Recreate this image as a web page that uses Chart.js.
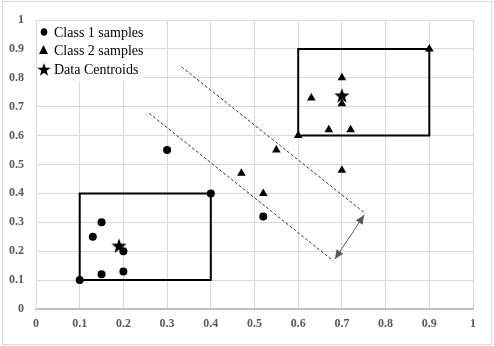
<!DOCTYPE html>
<html>
<head>
<meta charset="utf-8">
<script src="https://cdn.jsdelivr.net/npm/chart.js@4/dist/chart.umd.min.js"></script>
<style>
body { margin: 0; background: #fff; }
</style>
</head>
<body>
<canvas id="grafico" width="494" height="346"></canvas>
<script>
// dados
const class1X = [0.1, 0.15, 0.2, 0.13, 0.15, 0.2, 0.4, 0.3, 0.52]
const class1Y = [0.1, 0.12, 0.13, 0.25, 0.3, 0.2, 0.4, 0.55, 0.32]
const class2X = [0.9, 0.7, 0.63, 0.7, 0.67, 0.72, 0.6, 0.55, 0.7, 0.47, 0.52]
const class2Y = [0.9, 0.8, 0.73, 0.71, 0.62, 0.62, 0.6, 0.55, 0.48, 0.47, 0.4]
const centroidX = [0.19, 0.7]
const centroidY = [0.22, 0.74]

const box1X = [0.1, 0.4, 0.4, 0.1, 0.1]
const box1Y = [0.1, 0.1, 0.4, 0.4, 0.1]
const box2X = [0.6, 0.9, 0.9, 0.6, 0.6]
const box2Y = [0.6, 0.6, 0.9, 0.9, 0.6]

const dash1X = [0.333, 0.753]
const dash1Y = [0.838, 0.331]
const dash2X = [0.259, 0.68]
const dash2Y = [0.677, 0.167]

const setaX = [0.684, 0.751]
const setaY = [0.173, 0.325]

const tickValues = [0, 0.1, 0.2, 0.3, 0.4, 0.5, 0.6, 0.7, 0.8, 0.9, 1]
const tickLabels = ['0', '0.1', '0.2', '0.3', '0.4', '0.5', '0.6', '0.7', '0.8', '0.9', '1']

const legendLabels = ['Class 1 samples', 'Class 2 samples', 'Data Centroids']

function pontos(xs, ys){
    return xs.map((x, i) => ({x: x, y: ys[i]}))
}

function desenha_estrela(ctx, cx, cy, rOut, rIn){
    ctx.beginPath()
    for(let i = 0; i < 10; i++){
        let r = i % 2 == 0 ? rOut : rIn
        let a = -Math.PI / 2 + i * Math.PI / 5
        ctx.lineTo(cx + Math.cos(a) * r, cy + Math.sin(a) * r)
    }
    ctx.closePath()
    ctx.fill()
}

function cria_estrela(tam){
    const c = document.createElement('canvas')
    c.width = tam
    c.height = tam
    const g = c.getContext('2d')
    g.fillStyle = '#000'
    desenha_estrela(g, tam / 2, tam / 2 + tam * 0.06, tam / 2, tam / 5)
    return c
}

const estrela = cria_estrela(16)

const legenda = {
    id: 'legenda',
    beforeDatasetsDraw(chart){
        const ctx = chart.ctx
        const area = chart.chartArea
        ctx.save()
        ctx.fillStyle = '#fff'
        ctx.fillRect(area.left + 1, area.top + 1, 107, 60)
        ctx.fillStyle = '#000'
        const linhas = [12, 30, 49]
        // circulo
        ctx.beginPath()
        ctx.ellipse(area.left + 8, area.top + linhas[0], 3.3, 3.8, 0, 0, Math.PI * 2)
        ctx.fill()
        // triangulo
        ctx.beginPath()
        ctx.moveTo(area.left + 7.5, area.top + linhas[1] - 5)
        ctx.lineTo(area.left + 12, area.top + linhas[1] + 4)
        ctx.lineTo(area.left + 3, area.top + linhas[1] + 4)
        ctx.closePath()
        ctx.fill()
        // estrela
        desenha_estrela(ctx, area.left + 8, area.top + linhas[2] + 1, 7, 2.8)
        ctx.font = '14px "Liberation Serif", serif'
        ctx.textBaseline = 'middle'
        legendLabels.forEach((t, i) => {
            ctx.fillText(t, area.left + 18, area.top + linhas[i] + 1)
        })
        ctx.restore()
    }
}

const seta = {
    id: 'seta',
    afterDatasetsDraw(chart){
        const ctx = chart.ctx
        const sx = chart.scales.x
        const sy = chart.scales.y
        const x1 = sx.getPixelForValue(setaX[0]), y1 = sy.getPixelForValue(setaY[0])
        const x2 = sx.getPixelForValue(setaX[1]), y2 = sy.getPixelForValue(setaY[1])
        const ang = Math.atan2(y2 - y1, x2 - x1)
        ctx.save()
        ctx.strokeStyle = '#595959'
        ctx.fillStyle = '#595959'
        ctx.lineWidth = 1
        ctx.beginPath()
        ctx.moveTo(x1, y1)
        ctx.lineTo(x2, y2)
        ctx.stroke()
        function ponta(x, y, a){
            ctx.beginPath()
            ctx.moveTo(x, y)
            ctx.lineTo(x - Math.cos(a) * 9 + Math.sin(a) * 4, y - Math.sin(a) * 9 - Math.cos(a) * 4)
            ctx.lineTo(x - Math.cos(a) * 9 - Math.sin(a) * 4, y - Math.sin(a) * 9 + Math.cos(a) * 4)
            ctx.closePath()
            ctx.fill()
        }
        ponta(x2, y2, ang)
        ponta(x1, y1, ang + Math.PI)
        ctx.restore()
    }
}

const moldura = {
    id: 'moldura',
    afterDraw(chart){
        const ctx = chart.ctx
        ctx.save()
        ctx.strokeStyle = '#d9d9d9'
        ctx.lineWidth = 1
        ctx.strokeRect(2.5, 1.5, 489, 343)
        ctx.restore()
    }
}

const fonteTick = {family: '"Liberation Serif", serif', size: 12, weight: 'bold'}

const ctx = document.getElementById('grafico').getContext('2d')
const myChart = new Chart(ctx, {
    type: 'scatter',
    data: {
        datasets: [{
            label: legendLabels[2],
            data: pontos(centroidX, centroidY),
            pointStyle: estrela,
            pointRadius: 8,
            backgroundColor: '#000'
        }, {
            label: legendLabels[0],
            data: pontos(class1X, class1Y),
            pointStyle: 'circle',
            pointRadius: 4,
            backgroundColor: '#000',
            borderColor: '#000',
            borderWidth: 0
        }, {
            label: legendLabels[1],
            data: pontos(class2X, class2Y),
            pointStyle: 'triangle',
            pointRadius: 5,
            backgroundColor: '#000',
            borderColor: '#000',
            borderWidth: 0
        }, {
            data: pontos(box1X, box1Y),
            showLine: true,
            pointRadius: 0,
            borderColor: '#000',
            borderWidth: 2
        }, {
            data: pontos(box2X, box2Y),
            showLine: true,
            pointRadius: 0,
            borderColor: '#000',
            borderWidth: 2
        }, {
            data: pontos(dash1X, dash1Y),
            showLine: true,
            pointRadius: 0,
            borderColor: '#333',
            borderWidth: 1,
            borderDash: [3, 2]
        }, {
            data: pontos(dash2X, dash2Y),
            showLine: true,
            pointRadius: 0,
            borderColor: '#333',
            borderWidth: 1,
            borderDash: [3, 2]
        }]
    },
    options: {
        responsive: false,
        animation: false,
        layout: {padding: {top: 20, right: 21, left: 0, bottom: 0}},
        plugins: {
            legend: {display: false},
            tooltip: {enabled: false}
        },
        scales: {
            x: {
                type: 'linear',
                min: 0,
                max: 1,
                afterBuildTicks: s => { s.ticks = tickValues.map(v => ({value: v})) },
                afterFit: s => { s.height = 37 },
                ticks: {
                    callback: (v, i) => tickLabels[i],
                    padding: 8,
                    font: fonteTick,
                    color: '#595959',
                    autoSkip: false,
                    maxRotation: 0
                },
                grid: {color: '#d9d9d9', drawTicks: false},
                border: {color: '#bfbfbf', width: 2}
            },
            y: {
                type: 'linear',
                min: 0,
                max: 1,
                afterBuildTicks: s => { s.ticks = tickValues.map(v => ({value: v})) },
                afterFit: s => { s.width = 36 },
                ticks: {
                    callback: (v, i) => tickLabels[i],
                    padding: 12,
                    font: fonteTick,
                    color: '#595959',
                    autoSkip: false
                },
                grid: {color: '#d9d9d9', drawTicks: false},
                border: {color: '#d9d9d9', width: 1}
            }
        }
    },
    plugins: [legenda, seta, moldura]
})
</script>
</body>
</html>
